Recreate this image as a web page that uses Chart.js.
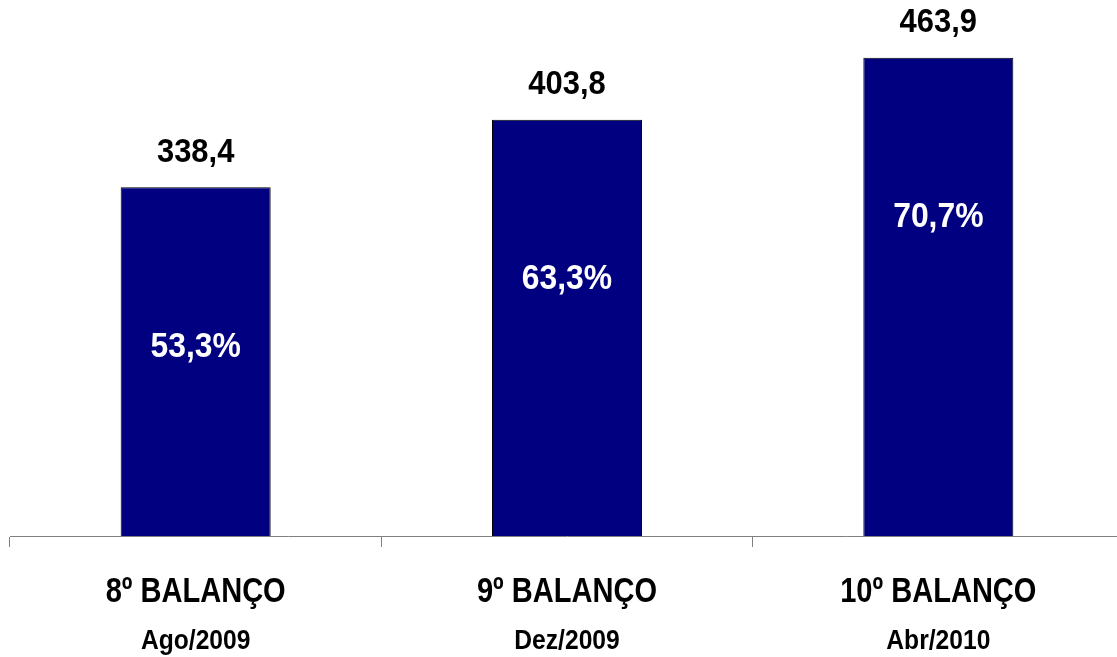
<!DOCTYPE html>
<html>
<head>
<meta charset="utf-8">
<script src="https://cdn.jsdelivr.net/npm/chart.js@4.4.0/dist/chart.umd.min.js"></script>
<style>
  html, body { margin: 0; padding: 0; background: #fff; overflow: hidden; }
  #wrap { position: relative; width: 1130px; height: 657px; }
</style>
</head>
<body>
<div id="wrap"><canvas id="chart"></canvas></div>
<script>
// Data
const balancos = ["8º BALANÇO", "9º BALANÇO", "10º BALANÇO"];
const datas = ["Ago/2009", "Dez/2009", "Abr/2010"];
const valores = [338.4, 403.8, 463.9];
const percentuais = ["53,3%", "63,3%", "70,7%"];

const FONT = "'Liberation Sans', Arial, sans-serif";

function fmt(v) {
  return v.toFixed(1).replace('.', ',');
}

//No narrow font installed, so squeeze the text horizontally
function narrowText(ctx, text, x, y, size, squeeze, color) {
  ctx.save();
  ctx.translate(x, y);
  ctx.scale(squeeze, 1);
  ctx.font = "bold " + size + "px " + FONT;
  ctx.fillStyle = color;
  ctx.textAlign = 'center';
  ctx.textBaseline = 'middle';
  ctx.fillText(text, 0, 0);
  ctx.restore();
}

//Draws the value over each bar, the percentage inside it and the two-line category labels
const labelPlugin = {
  id: 'labels',
  afterDatasetsDraw(chart) {
    const ctx = chart.ctx;
    const meta = chart.getDatasetMeta(0);
    const xScale = chart.scales.x;
    meta.data.forEach((bar, i) => {
      narrowText(ctx, fmt(valores[i]), bar.x, bar.y - 35, 34, 0.91, '#000');
      narrowText(ctx, percentuais[i], bar.x, bar.y + 160, 35, 0.91, '#fff');

      const cx = xScale.getPixelForValue(i);
      narrowText(ctx, balancos[i], cx, 592, 35, 0.83, '#000');
      narrowText(ctx, datas[i], cx, 641, 28, 0.88, '#000');
    });
  }
};

new Chart(document.getElementById('chart'), {
  type: 'bar',
  data: {
    labels: balancos,
    datasets: [{
      data: valores,
      backgroundColor: '#000080',
      borderColor: '#000000',
      borderWidth: 1,
      borderSkipped: 'bottom',
      categoryPercentage: 1,
      barPercentage: 0.404
    }]
  },
  options: {
    responsive: true,
    maintainAspectRatio: false,
    animation: false,
    layout: { padding: { left: 10, right: 6, top: 0, bottom: 110 } },
    plugins: {
      legend: { display: false },
      tooltip: { enabled: false }
    },
    scales: {
      x: {
        offset: true,
        grid: {
          offset: true,
          drawOnChartArea: false,
          drawTicks: true,
          tickLength: 11,
          color: '#808080',
          lineWidth: 1
        },
        border: { display: true, color: '#808080', width: 1 },
        ticks: { display: false }
      },
      y: {
        display: false,
        min: 0,
        max: 520
      }
    }
  },
  plugins: [labelPlugin]
});
</script>
</body>
</html>
